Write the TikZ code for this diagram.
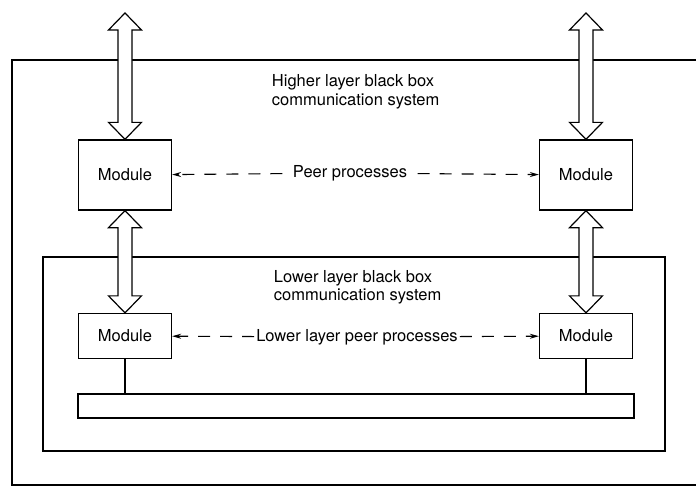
\documentclass[tikz,border=0pt]{standalone}
\usepackage{fontspec}
\setmainfont{TeX Gyre Heros}
\usetikzlibrary{arrows.meta}
\usetikzlibrary{calc}

% hollow two-headed arrow from #1 (lower tip) up to #2 (upper tip)
\newcommand{\fatarrow}[2]{%
	\draw[fat] let \p1=(#1), \p2=(#2) in
		(\x1,\y1) -- (\x1+16.5pt,\y1+17pt) -- (\x1+7pt,\y1+17pt)
		-- (\x1+7pt,\y2-17pt) -- (\x1+16.5pt,\y2-17pt) -- (\x1,\y2)
		-- (\x1-16.5pt,\y2-17pt) -- (\x1-7pt,\y2-17pt)
		-- (\x1-7pt,\y1+17pt) -- (\x1-16.5pt,\y1+17pt) -- cycle;}

\begin{document}
\begin{tikzpicture}[x=1pt, y=-1pt, >=Stealth, line width=1.3pt,
		font=\fontsize{16.5}{18.5}\selectfont,
		module/.style={draw, minimum width=93pt, inner sep=0pt},
		fat/.style={line width=1.2pt, fill=white, line join=miter},
		peer/.style={dash pattern=on 12pt off 10pt, line width=1.1pt,
			-{Stealth[length=9pt, width=5pt]}}]
		
		\useasboundingbox (0,0) rectangle (696,487);
		
		% Higher layer
		\draw (700,60) -- (12,60) -- (12,485) -- (700,485);
		\node[anchor=west, align=left] (hiname) at (268,92)
			{Higher layer black box\\communication system};
		\node[module, minimum height=70pt] (modA) at (125,175) {Module};
		\node[module, minimum height=70pt] (modB) at (586,175) {Module};
		\node[inner sep=10pt] (peerhi) at (350,173) {Peer processes};
		\draw[peer] (peerhi) -- (modA);
		\draw[peer] (peerhi) -- (modB);
		
		% Lower layer
		\draw (43,257) rectangle (665,451);
		\node[anchor=west, align=left] (loname) at (270,287.5)
			{Lower layer black box\\communication system};
		\node[module, minimum height=45pt] (modC) at (125,336) {Module};
		\node[module, minimum height=45pt] (modD) at (586,336) {Module};
		\node[inner sep=1.5pt] (peerlo) at (357,337) {Lower layer peer processes};
		\draw[peer] (peerlo) -- (modC);
		\draw[peer] (peerlo) -- (modD);
		
		% Bus
		\node[draw, minimum width=556pt, minimum height=24pt, inner sep=0pt] (bus) at (356,406) {};
		\draw (modC.south) -- (modC.south |- bus.north);
		\draw (modD.south) -- (modD.south |- bus.north);
		
		% Interfaces
		\coordinate (outA) at (modA.north |- 0,13);
		\coordinate (outB) at (modB.north |- 0,13);
		\fatarrow{modA.north}{outA}
		\fatarrow{modB.north}{outB}
		\fatarrow{modC.north}{modA.south}
		\fatarrow{modD.north}{modB.south}
		
	\end{tikzpicture}
\end{document}
